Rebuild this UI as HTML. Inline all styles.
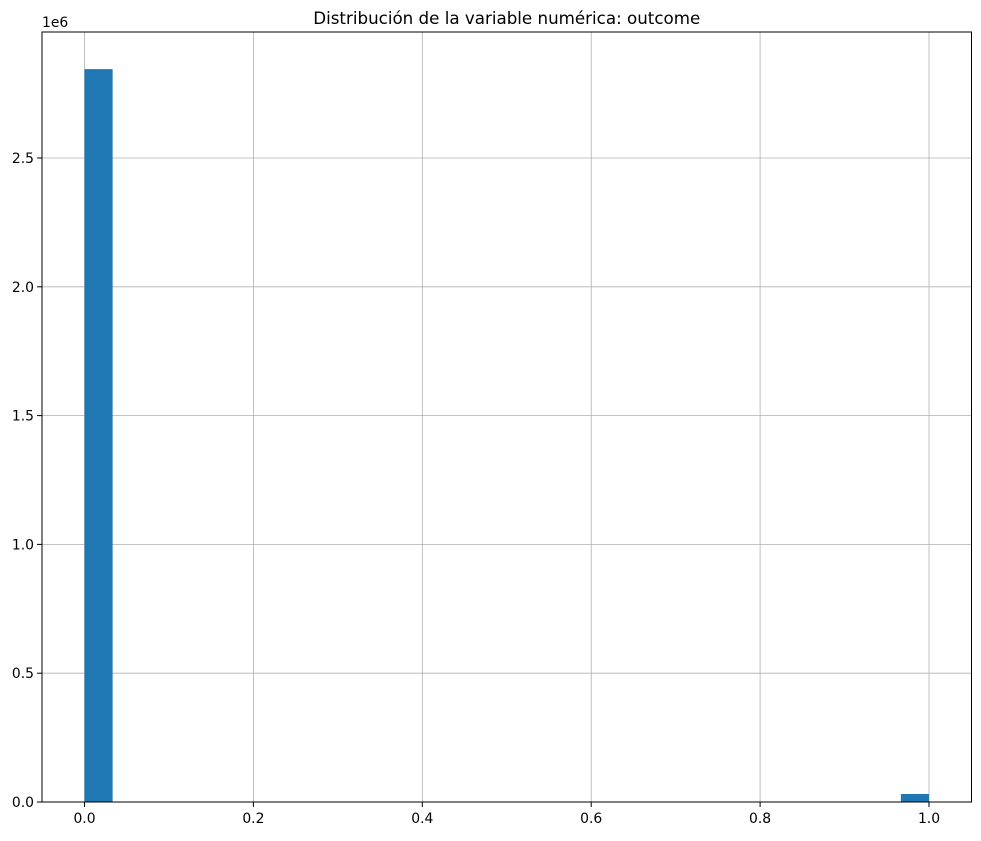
<!DOCTYPE html>
<html><head><meta charset="utf-8"><style>
body{margin:0;background:#fff;}
svg text{font-family:"DejaVu Sans","Liberation Sans",sans-serif;}
</style></head><body>
<svg id="chart" width="981" height="836" xmlns="http://www.w3.org/2000/svg"></svg>
<script>
const binEdgesStart=[0.0,0.9667];
const binWidth=[0.0333,0.0333];
const counts=[2845000,31000];
const xTicks=[0.0,0.2,0.4,0.6,0.8,1.0];
const xTickLabels=["0.0","0.2","0.4","0.6","0.8","1.0"];
const yTicks=[0,0.5e6,1.0e6,1.5e6,2.0e6,2.5e6];
const yTickLabels=["0.0","0.5","1.0","1.5","2.0","2.5"];
const L=42,R=971.5,T=32,B=802;
const x=v=>84.5+v*(929-84.5);
const y=v=>802-v*(802-158)/2.5e6;
const svg=document.getElementById('chart');
const NS="http://www.w3.org/2000/svg";
function mk(t,a,p){const e=document.createElementNS(NS,t);for(const k in a)e.setAttribute(k,a[k]);(p||svg).appendChild(e);return e;}
const grid=mk('g',{});


xTicks.forEach(v=>{mk('line',{x1:x(v),x2:x(v),y1:T,y2:B,stroke:'#b0b0b0','stroke-width':0.8},grid);});
yTicks.forEach(v=>{mk('line',{x1:L,x2:R,y1:y(v),y2:y(v),stroke:'#b0b0b0','stroke-width':0.8},grid);});
counts.forEach((c,i)=>{
  const r=mk('rect',{x:x(binEdgesStart[i]),y:y(c),width:x(binEdgesStart[i]+binWidth[i])-x(binEdgesStart[i]),height:B-y(c),fill:'#1f77b4'});
  
  
});
const frame=mk('rect',{x:L,y:T,width:R-L,height:B-T,fill:'none',stroke:'#000','stroke-width':1});


xTicks.forEach((v,i)=>{
  mk('line',{x1:x(v),x2:x(v),y1:B,y2:B+5,stroke:'#000'});
  const t=mk('text',{x:x(v),y:B+21,'text-anchor':'middle','font-size':13.9});
  t.textContent=xTickLabels[i];
  
  
});
yTicks.forEach((v,i)=>{
  mk('line',{x1:L-5,x2:L,y1:y(v),y2:y(v),stroke:'#000'});
  const t=mk('text',{x:L-8,y:y(v)+5,'text-anchor':'end','font-size':13.9});
  t.textContent=yTickLabels[i];
  
  
});
const off=mk('text',{x:42,y:27,'font-size':13.9});
off.textContent='1e6';


const title=mk('text',{x:(L+R)/2,y:24,'text-anchor':'middle','font-size':16.7});
title.textContent='Distribución de la variable numérica: outcome';


</script>
</body></html>
